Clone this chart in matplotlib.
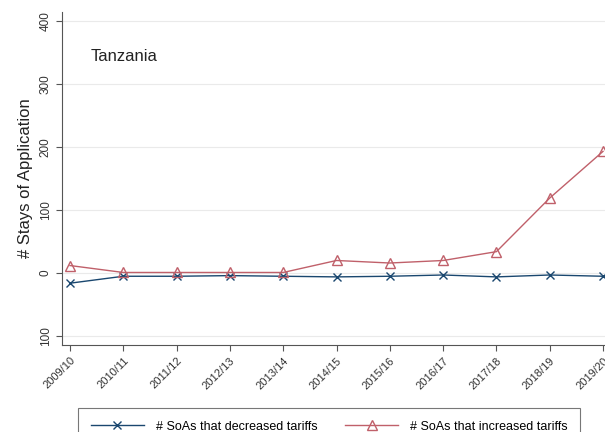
import matplotlib.pyplot as plt

plt.rcParams['font.family'] = ['Liberation Sans', 'DejaVu Sans']

seasons = ['2009/10', '2010/11', '2011/12', '2012/13', '2013/14', '2014/15',
           '2015/16', '2016/17', '2017/18', '2018/19', '2019/20']
decreased = [-16, -5, -5, -4, -5, -6, -5, -3, -6, -3, -5]
increased = [12, 1, 1, 1, 1, 20, 16, 20, 34, 119, 193]
yticks = [-100, 0, 100, 200, 300, 400]
ytick_labels = ['100', '0', '100', '200', '300', '400']

blue = '#1a476f'
red = '#c0606a'

fig = plt.figure(figsize=(6.05, 4.32), dpi=100)
ax = fig.add_axes([62 / 605, 1 - 345 / 432, 557 / 605, 333 / 432])

x = list(range(len(seasons)))
ax.plot(x, decreased, color=blue, lw=1.0, marker='x', ms=6, mew=1.0,
        label='# SoAs that decreased tariffs')
ax.plot(x, increased, color=red, lw=1.0, marker='^', ms=7, mew=1.0,
        mfc='none', mec=red, label='# SoAs that increased tariffs')

ax.set_xlim(-0.15, 10.3)
ax.set_ylim(-114, 414)
ax.set_xticks(x)
ax.set_xticklabels(seasons, rotation=45, ha='right', rotation_mode='anchor',
                   fontsize=8, color='#333333')
ax.set_yticks(yticks)
ax.set_yticklabels(ytick_labels, rotation=90, va='center', fontsize=8.5,
                   color='#333333')
ax.yaxis.grid(True, color='#eaeaea', lw=0.8)
ax.set_axisbelow(True)
ax.tick_params(direction='out', length=4, color='#555555')
for side in ['top', 'right']:
    ax.spines[side].set_visible(False)
for side in ['left', 'bottom']:
    ax.spines[side].set_color('#555555')

ax.set_ylabel('# Stays of Application', fontsize=12, color='#222222', labelpad=5)
ax.text(0.052, 0.865, 'Tanzania', transform=ax.transAxes, fontsize=12,
        color='#222222', va='center')

leg = fig.legend(loc='upper left', bbox_to_anchor=(78 / 605, 1 - 408 / 432),
                 ncol=2, fontsize=9, frameon=True, fancybox=False,
                 edgecolor='#555555', handlelength=4.3, handletextpad=0.9,
                 columnspacing=2.2, borderpad=1.0, borderaxespad=0)
leg.get_frame().set_linewidth(0.8)

fig.savefig('out.png', dpi=100)
